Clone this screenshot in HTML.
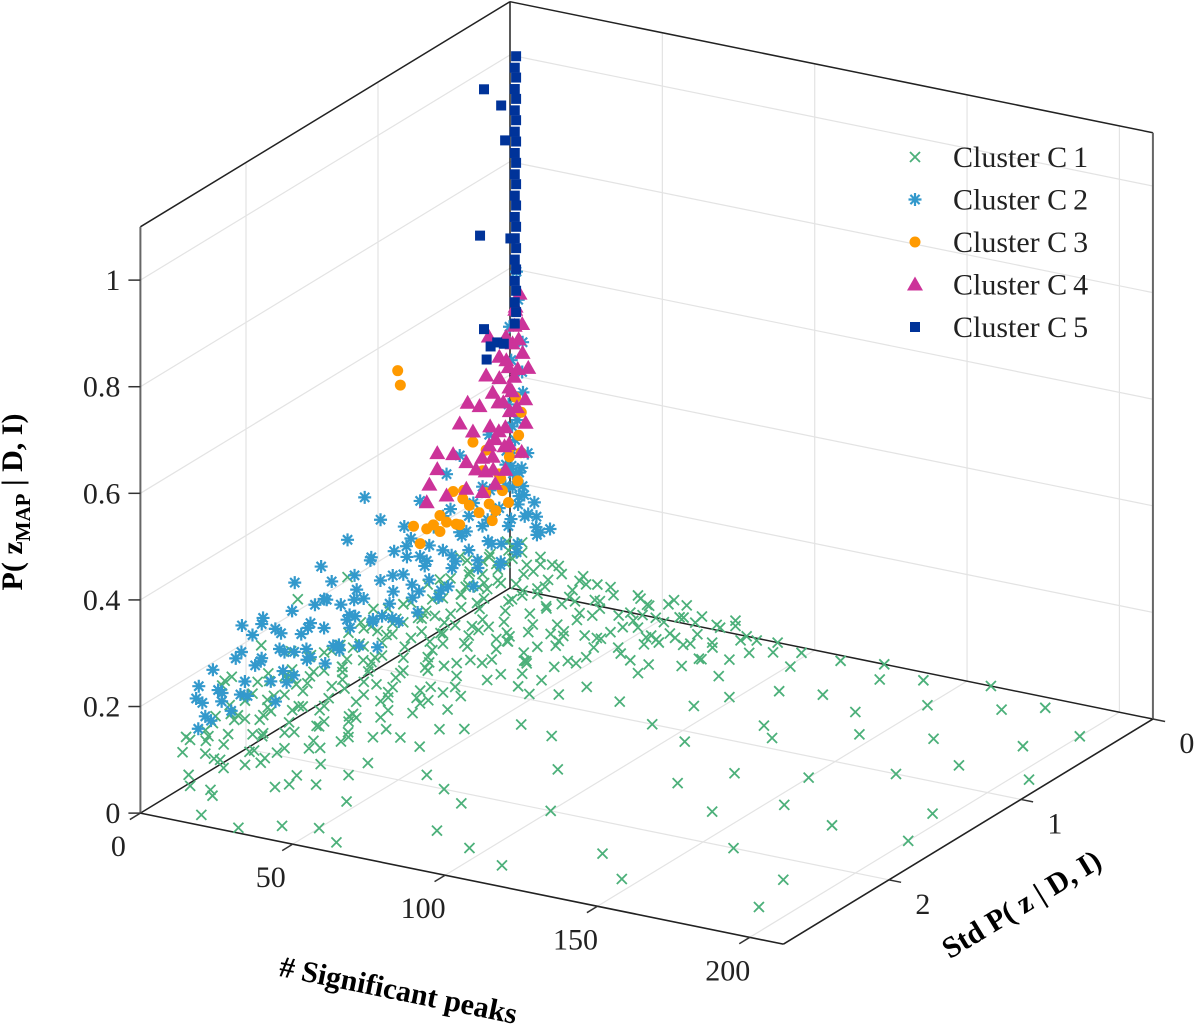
<!DOCTYPE html>
<html><head><meta charset="utf-8"><style>
html,body{margin:0;padding:0;background:#fff;}
svg{display:block;font-family:"Liberation Serif",serif;}
</style></head><body>
<svg id="chart" width="1200" height="1028" viewBox="0 0 1200 1028">
<g id="grid"></g>
<g id="box"></g>
<g id="marks"></g>
<g id="ticks"></g>
<text x="398" y="1000" text-anchor="middle" font-weight="bold" font-size="30" transform="rotate(11.5 398 992)"># Significant peaks</text>
<text x="1022" y="914" text-anchor="middle" font-weight="bold" font-size="30" transform="rotate(-31.3 1022 905)">Std P( z | D, I)</text>
<text x="30" y="510" text-anchor="middle" font-weight="bold" font-size="30" transform="rotate(-90 22 510)">P( z<tspan font-size="21" dy="8">MAP</tspan><tspan dy="-8"> | D, I)</tspan></text>
<g id="legend"></g>
</svg>
<script>
const pTicks=[0,50,100,150,200];
const sTicks=[0,1,2];
const zTicks=[0,0.2,0.4,0.6,0.8,1];
const zTickLabels=["0","0.2","0.4","0.6","0.8","1"];
const seriesNames=["Cluster C1","Cluster C2","Cluster C3","Cluster C4","Cluster C5"];
const c1=[[3,0.05,0.09],[6,0.12,0.08],[4,0.25,0.1],[9,0.3,0.07],[5,0.42,0.1],[8,0.5,0.09],[3,0.6,0.11],[7,0.7,0.1],[10,0.8,0.08],[4,0.9,0.11],[6,1.0,0.1],[9,1.1,0.09],[3,1.2,0.12],[7,1.3,0.1],[5,1.4,0.11],[10,1.5,0.08],[4,1.6,0.12],[8,1.7,0.1],[5,1.8,0.11],[3,1.9,0.13],[7,2.0,0.1],[4,2.1,0.12],[6,2.2,0.1],[3,2.3,0.11],[5,2.4,0.09],[2,2.35,0.07],
[12,0.1,0.06],[15,0.25,0.05],[18,0.4,0.06],[13,0.55,0.07],[20,0.7,0.05],[14,0.85,0.06],[17,1.0,0.07],[22,1.15,0.05],[12,1.3,0.08],[19,1.45,0.06],[15,1.6,0.07],[23,1.75,0.05],[13,1.9,0.08],[18,2.05,0.06],[14,2.2,0.07],[20,2.35,0.05],[11,2.45,0.06],
[25,0.05,0.05],[30,0.2,0.04],[27,0.35,0.05],[35,0.5,0.03],[28,0.65,0.04],[40,0.8,0.03],[32,0.95,0.04],[26,1.1,0.05],[38,1.25,0.03],[30,1.4,0.04],[44,1.55,0.02],[33,1.7,0.03],[27,1.85,0.04],[40,2.0,0.02],[31,2.15,0.03],[36,2.3,0.02],[29,2.45,0.03],
[45,0.05,0.04],[50,0.15,0.03],[55,0.3,0.035],[48,0.45,0.03],[60,0.1,0.03],[65,0.25,0.02],[58,0.5,0.02],[70,0.05,0.02],[75,0.2,0.015],[52,0.7,0.025],[62,0.85,0.015],[46,1.0,0.02],[80,0.1,0.01],[85,0.3,0.01],[68,0.6,0.01],
[8,0.6,0.03],[12,0.9,0.02],[6,1.2,0.04],[16,1.35,0.01],[9,1.65,0.03],[20,1.9,0.01],[7,2.1,0.02],[25,2.25,0.0],[10,2.5,0.01],[15,2.6,0.02],[5,2.55,0.04],
[2,0.15,0.07],[5,0.35,0.06],[11,0.45,0.09],[4,0.75,0.07],[12,0.65,0.1],[2,1.05,0.08],[11,0.95,0.1],[6,1.25,0.06],[12,1.55,0.1],[2,1.7,0.09],[10,1.85,0.11],[6,1.95,0.07],[11,2.15,0.09],[8,2.3,0.12],[2,2.5,0.1],[9,2.45,0.06],[16,0.05,0.07],[22,0.3,0.07],[19,0.6,0.04],[24,0.9,0.06],[16,1.2,0.04],[25,1.5,0.06],[21,1.65,0.03],[17,2.25,0.04],[24,2.0,0.07],[33,0.1,0.06],[38,0.35,0.05],[42,0.6,0.04],[34,0.8,0.06],[30,1.2,0.02],[36,1.45,0.05],[42,1.8,0.04],[34,2.4,0.05],[56,0.05,0.05],[62,0.4,0.04],[72,0.35,0.03],[78,0.5,0.02],[90,0.05,0.01],[95,0.2,0.02],[88,0.45,0.005],[54,1.1,0.03],[60,1.3,0.01],[50,1.5,0.02],[44,1.7,0.01],[38,2.1,0.01],[46,2.3,0.0],[3,0.45,0.13],[5,1.15,0.14],[4,1.75,0.15],[6,2.05,0.14],[3,2.25,0.16],
[4,1.7,0.24],[6,2.3,0.18],[3,1.3,0.22],[5,2.0,0.2],[4,2.2,0.17],
[4,0,0.09],[10,0,0.07],[16,0,0.06],[24,0,0.05],[33,0,0.04],[42,0,0.035],[52,0,0.03],[63,0,0.02],[74,0,0.015],
[6,.15,.1],[12,.15,.08],[19,.15,.06],[27,.15,.05],[36,.15,.04],[46,.15,.03],[57,.15,.025],[68,.15,.015],
[4,.3,.1],[9,.3,.09],[15,.3,.07],[22,.3,.06],[30,.3,.05],[40,.3,.04],[50,.3,.03],[61,.3,.02],
[6,.45,.1],[12,.45,.08],[19,.45,.065],[26,.45,.05],[35,.45,.04],[44,.45,.03],[55,.45,.02],
[4,.6,.1],[10,.6,.09],[16,.6,.07],[24,.6,.055],[32,.6,.045],[41,.6,.03],[51,.6,.02],
[7,.75,.1],[13,.75,.08],[20,.75,.065],[28,.75,.05],[37,.75,.035],[47,.75,.02],
[4,.9,.11],[10,.9,.09],[17,.9,.07],[25,.9,.055],[33,.9,.04],[43,.9,.025],
[7,1.05,.1],[13,1.05,.08],[20,1.05,.065],[28,1.05,.05],[38,1.05,.03],
[4,1.2,.11],[10,1.2,.09],[17,1.2,.07],[25,1.2,.055],[34,1.2,.035],
[7,1.35,.1],[13,1.35,.08],[21,1.35,.06],[29,1.35,.045],[38,1.35,.02],
[4,1.5,.11],[10,1.5,.09],[17,1.5,.07],[25,1.5,.05],[33,1.5,.03],
[7,1.65,.1],[13,1.65,.08],[21,1.65,.06],[29,1.65,.04],
[4,1.8,.11],[10,1.8,.09],[17,1.8,.07],[25,1.8,.05],[33,1.8,.03],
[7,1.95,.1],[13,1.95,.08],[21,1.95,.06],[29,1.95,.04],
[4,2.1,.11],[10,2.1,.09],[17,2.1,.065],[25,2.1,.045],
[7,2.25,.1],[13,2.25,.08],[21,2.25,.055],
[4,2.4,.1],[10,2.4,.08],[17,2.4,.05],[3,2.55,.08],
[2,.07,.1],[7,.07,.085],[13,.07,.07],[20,.07,.06],[28,.07,.05],[37,.07,.04],[48,.07,.035],[60,.07,.025],[72,.07,.02],[84,.07,.01],
[3,.22,.1],[8,.22,.09],[14,.22,.075],[21,.22,.06],[29,.22,.05],[39,.22,.04],[50,.22,.03],[62,.22,.02],[76,.22,.01],
[2,.37,.11],[7,.37,.09],[13,.37,.08],[20,.37,.065],[28,.37,.05],[38,.37,.04],[49,.37,.03],[60,.37,.02],
[3,.52,.1],[8,.52,.09],[14,.52,.075],[21,.52,.06],[30,.52,.045],[40,.52,.035],[50,.52,.025],[62,.52,.015],
[2,.67,.11],[7,.67,.09],[13,.67,.08],[20,.67,.065],[28,.67,.05],[38,.67,.035],[48,.67,.02],
[3,.82,.1],[8,.82,.09],[14,.82,.075],[22,.82,.06],[31,.82,.045],[41,.82,.03],
[2,.97,.11],[7,.97,.09],[13,.97,.08],[20,.97,.065],[29,.97,.045],[39,.97,.03],
[3,1.12,.1],[8,1.12,.09],[14,1.12,.075],[22,1.12,.055],[31,1.12,.04],
[2,1.27,.11],[7,1.27,.09],[13,1.27,.08],[20,1.27,.06],[29,1.27,.04],
[3,1.42,.1],[8,1.42,.09],[15,1.42,.075],[23,1.42,.055],[32,1.42,.035],
[2,1.57,.11],[7,1.57,.09],[13,1.57,.08],[20,1.57,.06],[28,1.57,.04],
[3,1.72,.11],[8,1.72,.09],[15,1.72,.07],[23,1.72,.05],
[2,1.87,.11],[7,1.87,.09],[13,1.87,.075],[20,1.87,.055],[28,1.87,.035],
[3,2.02,.11],[8,2.02,.09],[15,2.02,.07],[23,2.02,.045],
[2,2.17,.11],[7,2.17,.09],[13,2.17,.07],[20,2.17,.05],
[3,2.32,.1],[8,2.32,.085],[15,2.32,.06],
[2,2.47,.09],[7,2.47,.07],[13,2.47,.05],
[30,.05,.02],[40,.1,.01],[50,.05,.01],[35,.4,.02],[45,.35,.01],[55,.2,.005],[65,.45,.0],[75,.3,.0],[85,.15,.0],[25,.6,.02],[35,.7,.01],[45,.8,.0],[55,.9,.0],
[50,.1,.04],[58,.0,.035],[66,.12,.03],[74,.0,.025],[82,.1,.02],[70,.25,.015],[78,.35,.01],[64,.35,.025],
[100,0.1,0.01],[105,0.3,0.02],[98,0.6,0.0],[110,0.5,0.01],[115,0.15,0.02],[120,0.4,0.0],[125,0.05,0.01],[130,0.2,0.01],[118,0.8,0.0],[135,0.5,0.0],[140,0.1,0.005],[150,0.3,0.0],[160,0.05,0.01],[170,0.2,0.0],[165,0.6,0.0],[180,0.1,0.0],[190,0.5,0.0],[200,0.3,0.0],[205,0.8,0.0],[195,1.3,0.0],[175,1.6,0.0],[185,2.2,0.0],[160,2.0,0.0],[150,1.2,0.0],[140,1.7,0.0],[130,2.3,0.0],[120,1.5,0.0],[110,2.6,0.0],[100,2.0,0.0],[90,1.0,0.0],[85,1.6,0.0],[80,2.4,0.0],[70,1.3,0.0],[65,2.0,0.0],[60,2.7,0.0],[55,1.9,0.0],[50,2.6,0.0],[40,2.65,0.0],[30,2.75,0.0],[20,2.8,0.02],[12,2.7,0.05],[75,0.9,0.01],[95,0.8,0.01],[105,1.1,0.0],[125,0.9,0.0],[145,0.7,0.0],[155,1.5,0.0],[170,1.0,0.0],[182,0.8,0.0],[200,1.6,0.0],[190,2.5,0.0],[145,2.5,0.0],[95,2.5,0.0],[75,2.1,0.0],[130,1.3,0.0]];
const c2=[[3,0.02,0.6],[4,0.03,0.55],[2,0.05,0.5],[5,0.02,0.47],[3,0.06,0.44],[4,0.0,0.41],[6,0.04,0.38],[3,0.08,0.36],[5,0.06,0.33],[2,0.03,0.31],[6,0.1,0.3],[4,0.12,0.28],[8,0.05,0.27],[7,0.15,0.26],[3,0.1,0.25],
[5,0.15,0.22],[9,0.2,0.17],[4,0.3,0.24],[8,0.35,0.15],[6,0.45,0.21],[11,0.5,0.14],[4,0.6,0.23],[9,0.65,0.17],[6,0.75,0.2],[12,0.8,0.13],[5,0.9,0.22],[9,0.95,0.16],[7,1.05,0.19],[4,1.15,0.23],[10,1.2,0.14],[6,1.3,0.2],[8,1.4,0.17],[4,1.5,0.21],[11,1.55,0.14],[6,1.65,0.19],[9,1.75,0.16],[5,1.85,0.2],[10,1.95,0.15],[7,2.05,0.18],[5,2.15,0.21],[9,2.25,0.15],[6,2.35,0.17],[4,2.45,0.19],[13,0.25,0.12],[14,0.6,0.11],[13,1.0,0.12],[15,1.35,0.11],[13,1.7,0.13],[14,2.1,0.12],[7,0.1,0.18],[8,0.55,0.19],[3,0.85,0.19],[7,1.55,0.22],[3,1.95,0.23],[8,2.45,0.13],[10,0.4,0.2],[11,0.9,0.19],[12,1.45,0.18],[11,2.0,0.2],
[3,0.05,0.2],[7,0.05,0.15],[11,0.05,0.12],[4,0.2,0.18],[8,0.25,0.13],[12,0.35,0.11],[3,0.4,0.17],[6,0.55,0.14],[10,0.7,0.12],[3,0.7,0.16],[7,0.85,0.13],[5,1.0,0.15],[9,1.1,0.12],[3,1.25,0.17],[7,1.2,0.13],[5,1.35,0.15],[9,1.5,0.12],[3,1.6,0.17],[7,1.7,0.13],[5,1.75,0.15],[9,1.9,0.12],[3,2.0,0.16],[7,2.15,0.13],[5,2.3,0.14],[3,2.4,0.15],[6,2.5,0.12],
[4,.07,.23],[6,.07,.19],[9,.07,.16],[13,.07,.13],[3,.22,.22],[6,.22,.19],[9,.22,.16],[12,.22,.13],[4,.37,.22],[7,.37,.18],[10,.37,.15],[13,.37,.12],[3,.52,.23],[6,.52,.19],[9,.52,.16],[12,.52,.13],[4,.67,.22],[7,.67,.18],[10,.67,.15],[3,.82,.22],[6,.82,.19],[9,.82,.15],[12,.82,.12],[4,.97,.22],[7,.97,.18],[10,.97,.14],[3,1.12,.23],[6,1.12,.19],[9,1.12,.15],[12,1.12,.12],[4,1.27,.22],[7,1.27,.18],[10,1.27,.14],[3,1.42,.23],[6,1.42,.19],[9,1.42,.15],[12,1.42,.12],[4,1.57,.21],[7,1.57,.17],[10,1.57,.14],[3,1.72,.22],[6,1.72,.18],[9,1.72,.14],[4,1.87,.21],[7,1.87,.17],[10,1.87,.13],[3,2.02,.22],[6,2.02,.18],[9,2.02,.14],[4,2.17,.2],[7,2.17,.16],[3,2.32,.2],[6,2.32,.16],[9,2.32,.13],[4,2.47,.17],[7,2.47,.14],
[3,.0,.22],[5,.02,.2],[8,.0,.17],[10,.03,.15],[6,.05,.24],[4,.08,.27],[9,.1,.2],[12,.08,.14],[14,.02,.13],
[3,1.94,0.24],[3,1.17,0.35],[3,1.05,0.29],[3,0.87,0.25],[3,0.45,0.32],[3,0.55,0.3],[3,1.3,0.29],[3,1.5,0.27],[3,1.7,0.27],[3,2.1,0.25],[4,0.25,0.33],[3,0.75,0.28]];
const c3=[[3,0.92,0.55],[3,0.9,0.52],[3,0.42,0.25],[3,0.8,0.24],[3,0.6,0.23],[3,0.14,0.23],[4,0.01,0.26],[5,0.05,0.3],[4,0.1,0.28],[3,0.25,0.3],[4,0.3,0.27],[3,0.5,0.26],[5,0.2,0.25],[4,0.45,0.24],[3,0.35,0.33],[5,0.03,0.34],[4,0.15,0.21],[6,0.08,0.22],[3,0.55,0.21],[4,0.05,0.37],[3,0.7,0.22],[5,0.12,0.27],
[3,.6,.2],[3,.65,.22],[4,.5,.2],[4,.4,.22],[5,.35,.2],[4,.25,.2],[5,.3,.23],[3,.75,.2],[4,.2,.18],[6,.15,.19],[5,.25,.17],[3,.45,.19]];
const c4=[[4,0.02,0.56],[3,0.03,0.53],[4,0.0,0.5],[3,0.05,0.47],[5,0.02,0.45],[3,0.08,0.43],[4,0.06,0.41],[5,0.1,0.39],[3,0.12,0.37],[4,0.04,0.35],[5,0.15,0.33],[3,0.18,0.31],[4,0.1,0.29],[6,0.02,0.32],[3,0.2,0.28],
[3,0.23,0.51],[3,0.39,0.41],[3,0.62,0.35],[3,0.62,0.32],[3,0.45,0.38],[3,0.3,0.39],[3,0.2,0.4],[3,0.5,0.33],[3,0.68,0.3],[3,0.7,0.27],[3,0.35,0.35],[3,0.25,0.44],[3,0.15,0.46],[3,0.4,0.3],[3,0.55,0.26],
[4,.05,.54],[5,.08,.51],[3,.1,.49],[5,.05,.48],[4,.12,.45],[6,.08,.43],[3,.15,.42],[5,.12,.4],[4,.18,.38],[6,.14,.36],[3,.22,.34],[5,.2,.33],[4,.25,.31],[6,.18,.3],[3,.28,.29],[5,.3,.27],[4,.22,.26],[6,.25,.24],[5,.15,.25],[4,.3,.23],[6,.05,.27],[5,.0,.36],[6,.0,.42],[4,.35,.28],[3,.4,.25]];
const c5=[[2,0.0,1.0],[2,0.01,0.98],[2,0.0,0.96],[2,0.01,0.94],[2,0.0,0.92],[2,0.01,0.9],[2,0.0,0.88],[2,0.01,0.86],[2,0.0,0.84],[2,0.01,0.82],[2,0.0,0.8],[2,0.01,0.78],[2,0.0,0.76],[2,0.01,0.74],[2,0.0,0.72],[2,0.01,0.7],[2,0.0,0.68],[2,0.01,0.66],[2,0.0,0.64],[2,0.01,0.62],[2,0.0,0.6],[2,0.01,0.58],[2,0.0,0.56],[2,0.01,0.54],[2,0.0,0.52],[2,0.01,0.5],
[1,0.22,0.97],[1,0.09,0.92],[1,0.06,0.85],[1,0.25,0.7],[1,0.02,0.66],[1,0.2,0.46],[1,0.17,0.48],[1,0.12,0.48],[1,0.22,0.52],[1,0.07,0.47]];

const PMAX=211,SMAX=2.8,ZTOP=1.1;
function px(p,s,z){return 510+3.047*p-132*s;}
function py(p,s,z){return 588+0.621*p+80.4*s-533*z;}
const NS="http://www.w3.org/2000/svg";
function mk(tag,attrs,parent){const e=document.createElementNS(NS,tag);for(const k in attrs)e.setAttribute(k,attrs[k]);parent.appendChild(e);return e;}
function line(g,a,b,stroke,w,name){
  const e=mk('line',{x1:px(...a),y1:py(...a),x2:px(...b),y2:py(...b),stroke:stroke,'stroke-width':w},g);
  
  
}
const grid=document.getElementById('grid'),box=document.getElementById('box'),marks=document.getElementById('marks'),tk=document.getElementById('ticks');
const GC="#e3e3e3";
pTicks.slice(1).forEach(p=>{line(grid,[p,0,0],[p,SMAX,0],GC,1.2,'floor-grid-p');line(grid,[p,0,0],[p,0,ZTOP],GC,1.2,'back-wall-grid-p');});
sTicks.slice(1).forEach(s=>{line(grid,[0,s,0],[PMAX,s,0],GC,1.2,'floor-grid-s');line(grid,[0,s,0],[0,s,ZTOP],GC,1.2,'side-wall-grid-s');});
zTicks.slice(1).forEach(z=>{line(grid,[0,0,z],[PMAX,0,z],GC,1.2,'back-wall-grid-z');line(grid,[0,0,z],[0,SMAX,z],GC,1.2,'side-wall-grid-z');});
line(box,[0,SMAX,ZTOP],[0,0,ZTOP],"#222",1.5,'top-edge-left');
line(box,[0,0,ZTOP],[PMAX,0,ZTOP],"#222",1.5,'top-edge-right');
line(box,[0,0,0],[0,0,ZTOP],"#222",1.5,'back-vertical-edge');
line(box,[0,SMAX,0],[0,0,0],"#222",1.5,'back-bottom-edge-left');
line(box,[0,0,0],[PMAX,0,0],"#222",1.5,'back-bottom-edge-right');
line(box,[0,SMAX,0],[0,SMAX,ZTOP],"#666",2,'z-axis-line');
line(box,[PMAX,0,0],[PMAX,0,ZTOP],"#666",2,'right-vertical-edge');

const COLORS=["#4cb07a","#3399cc","#ff9a00","#cc3399","#003399"];
function marker(g,type,x,y,c,name){
  let e;
  if(type===0){e=mk('path',{d:`M${x-5} ${y-5}L${x+5} ${y+5}M${x-5} ${y+5}L${x+5} ${y-5}`,stroke:c,'stroke-width':1.8,fill:'none'},g);}
  else if(type===1){e=mk('path',{d:`M${x-6.5} ${y}L${x+6.5} ${y}M${x} ${y-6.5}L${x} ${y+6.5}M${x-4.6} ${y-4.6}L${x+4.6} ${y+4.6}M${x-4.6} ${y+4.6}L${x+4.6} ${y-4.6}`,stroke:c,'stroke-width':2.2,fill:'none'},g);}
  else if(type===2){e=mk('circle',{cx:x,cy:y,r:5.5,fill:c},g);}
  else if(type===3){e=mk('path',{d:`M${x} ${y-8}L${x+8} ${y+6}L${x-8} ${y+6}Z`,fill:c},g);}
  else {e=mk('rect',{x:x-5,y:y-5,width:10,height:10,fill:c},g);}
  
  
  return e;
}
[c1,c2,c3,c4,c5].forEach((arr,i)=>{
  const g=mk('g',{},marks);
  
  
  arr.forEach(d=>marker(g,i,px(d[0],d[1],d[2]),py(d[0],d[1],d[2]),COLORS[i],'point-c'+(i+1)));
});

function txt(g,x,y,s,anchor,name){const t=mk('text',{x:x,y:y,'font-size':30,'text-anchor':anchor,fill:'#222'},g);t.textContent=s;}
zTicks.forEach((z,i)=>{
  const x=px(0,SMAX,z),y=py(0,SMAX,z);
  const l=mk('line',{x1:x,y1:y,x2:x-12,y2:y,stroke:'#333','stroke-width':1.5},tk);
  
  
  txt(tk,x-20,y+10,zTickLabels[i],'end','z-tick-label');
});
pTicks.forEach(p=>{
  line(tk,[p,SMAX,0],[p,SMAX+0.08,0],'#333',1.5,'p-tick');
  txt(tk,px(p,SMAX,0)-22,py(p,SMAX,0)+43,String(p),'middle','p-tick-label');
});
sTicks.forEach(s=>{
  line(tk,[PMAX,s,0],[PMAX+4,s,0],'#333',1.5,'s-tick');
  txt(tk,px(PMAX,s,0)+34,py(PMAX,s,0)+34,String(s),'middle','s-tick-label');
});
line(box,[0,SMAX,0],[PMAX,SMAX,0],"#222",1.6,'x-axis-line');
line(box,[PMAX,SMAX,0],[PMAX,0,0],"#222",1.6,'y-axis-line');

const lg=document.getElementById('legend');
seriesNames.forEach((n,i)=>{
  const y=157+i*42.5;
  const g=mk('g',{},lg);
  
  
  marker(g,i,915,y,COLORS[i],'legend-marker');
  txt(g,953,y+10,n.replace(' C',' C\u2009'),'start','legend-label');
});
</script>
</body></html>
